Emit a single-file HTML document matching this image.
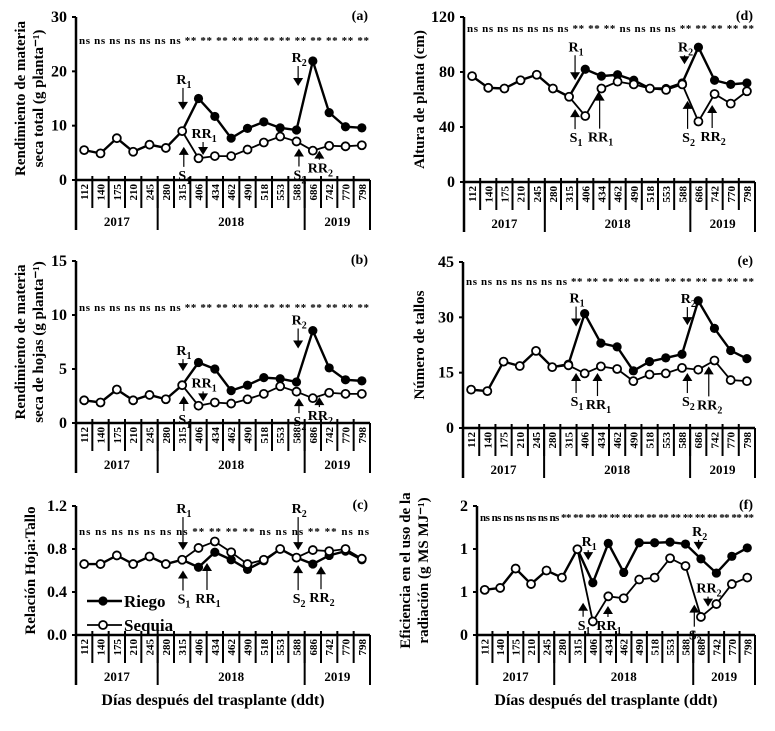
<!DOCTYPE html>
<html><head><meta charset="utf-8"><style>
html,body{margin:0;padding:0;background:#fff;}
svg{display:block;font-family:"Liberation Serif",serif;font-weight:bold;}
</style></head><body>
<svg id="fig" width="775" height="731" viewBox="0 0 775 731" xmlns="http://www.w3.org/2000/svg"></svg>
<script>
const categories = ["112","140","175","210","245","280","315","406","434","462","490","518","553","588","686","742","770","798"];
const years = ["2017","2018","2019"];
const yearSpans = [[0,5],[5,14],[14,18]];

const riegoA = [5.5,4.9,7.7,5.2,6.5,5.9,9.0,15.0,11.7,7.7,9.5,10.7,9.6,9.2,21.9,12.4,9.8,9.6];
const sequiaA = [5.5,4.9,7.7,5.2,6.5,5.9,9.0,4.0,4.4,4.4,5.6,6.9,8.0,7.1,5.4,6.3,6.2,6.4];
const riegoB = [2.1,1.9,3.1,2.1,2.6,2.2,3.5,5.6,5.0,3.0,3.5,4.2,4.1,3.8,8.55,5.1,4.0,3.9];
const sequiaB = [2.1,1.9,3.1,2.1,2.6,2.2,3.5,1.6,1.9,1.8,2.2,2.7,3.4,2.9,2.3,2.8,2.7,2.7];
const riegoC = [0.66,0.66,0.74,0.66,0.73,0.66,0.70,0.63,0.77,0.70,0.61,0.69,0.80,0.72,0.66,0.74,0.78,0.70];
const sequiaC = [0.66,0.66,0.74,0.66,0.73,0.66,0.70,0.81,0.87,0.77,0.66,0.70,0.80,0.72,0.79,0.78,0.80,0.71];
const riegoD = [77,68.5,68,74,78,68,62,82,77,78,74,68,68,72,98,74,71,72];
const sequiaD = [77,68.5,68,74,78,68,62,48,68,73,71,68,67,71,44,64,57,66];
const riegoE = [10.4,10,18,16.8,20.9,16.5,17.3,31,23,22,15.5,18,19,20,34.5,27,21,18.8];
const sequiaE = [10.4,10,18,16.8,20.9,16.5,17.0,14.8,16.7,16,12.7,14.5,14.8,16.3,15.8,18.3,13,12.7];
const riegoF = [0.70,0.73,1.03,0.79,1.00,0.89,1.33,0.81,1.42,0.97,1.43,1.43,1.44,1.41,1.18,0.96,1.22,1.35];
const sequiaF = [0.70,0.73,1.03,0.79,1.00,0.89,1.33,0.21,0.60,0.57,0.86,0.89,1.19,1.07,0.28,0.48,0.79,0.89];

const ticksA=[0,10,20,30], tickLabA=["0","10","20","30"];
const ticksB=[0,5,10,15], tickLabB=["0","5","10","15"];
const ticksC=[0,0.4,0.8,1.2], tickLabC=["0.0","0.4","0.8","1.2"];
const ticksD=[0,40,80,120], tickLabD=["0","40","80","120"];
const ticksE=[0,15,30,45], tickLabE=["0","15","30","45"];
const ticksF=[0,2/3,4/3,2], tickLabF=["0","1","1","2"];

const NS="http://www.w3.org/2000/svg";
const svg=document.getElementById('fig');
function el(tag,attrs,parent,text){const e=document.createElementNS(NS,tag);for(const k in attrs)e.setAttribute(k,attrs[k]);if(text!==undefined)e.textContent=text;(parent||svg).appendChild(e);return e;}

const panels=[
 {id:'a',x0:76,x1:370,yT:17,y0:180,max:30,ticks:ticksA,tl:tickLabA,r:riegoA,s:sequiaA,
  ns:"ns ns ns ns ns ns ns ** ** ** ** ** ** ** ** ** ** ** **",nsY:44,
  title:["Rendimiento de materia","seca total (g planta\u207B\u00B9)"],tx:[20,38],
  arrows:[[6.05,12.9,22,'d','R','1'],[7.28,4.6,13,'d','RR','1'],[6.1,6.1,20,'u','S','1'],[13.1,17.3,20,'d','R','2'],[13.15,5.8,18,'u','S','2'],[14.4,5.4,9,'u','RR','2']]},
 {id:'b',x0:76,x1:370,yT:261,y0:423,max:15,ticks:ticksB,tl:tickLabB,r:riegoB,s:sequiaB,
  ns:"ns ns ns ns ns ns ns ** ** ** ** ** ** ** ** ** ** ** **",nsY:311,
  title:["Rendimiento de materia","seca de hojas (g planta\u207B\u00B9)"],tx:[20,38],
  arrows:[[6.05,4.8,12,'d','R','1'],[7.28,2.0,10,'d','RR','1'],[6.1,2.5,15,'u','S','1'],[13.1,6.9,20,'d','R','2'],[13.15,2.3,15,'u','S','2'],[14.4,2.4,10,'u','RR','2']]},
 {id:'c',x0:76,x1:370,yT:506,y0:635,max:1.2,ticks:ticksC,tl:tickLabC,r:riegoC,s:sequiaC,
  ns:"ns ns ns ns ns ns ns ** ** ** ** ns ns ns ** ** ns ns",nsY:535,
  title:["Relación Hoja:Tallo"],tx:[30],xtitle:true,
  arrows:[[6.05,0.79,33,'d','R','1'],[6.05,0.60,20,'u','S','1'],[7.52,0.67,27,'u','RR','1'],[13.1,0.79,33,'d','R','2'],[13.1,0.65,25,'u','S','2'],[14.5,0.64,23,'u','RR','2']],legend:true},
 {id:'d',x0:464,x1:755,yT:17,y0:182,max:120,ticks:ticksD,tl:tickLabD,r:riegoD,s:sequiaD,
  ns:"ns ns ns ns ns ns ns ** ** ** ns ns ns ns ** ** ** ** **",nsY:32,
  title:["Altura de planta (cm)"],tx:[419],
  arrows:[[6.37,74,25,'d','R','1'],[6.37,53,20,'u','S','1'],[7.89,65,36,'u','RR','1'],[13.14,85.6,9,'d','R','2'],[13.33,59,28,'u','S','2'],[14.85,56,23,'u','RR','2']]},
 {id:'e',x0:463,x1:755,yT:262,y0:428,max:45,ticks:ticksE,tl:tickLabE,r:riegoE,s:sequiaE,
  ns:"ns ns ns ns ns ns ns ** ** ** ** ** ** ** ** ** ** ** **",nsY:285,
  title:["Número de tallos"],tx:[419],
  arrows:[[6.47,27.5,20,'d','R','1'],[6.47,14.9,20,'u','S','1'],[7.79,14.9,23,'u','RR','1'],[13.33,27.9,18,'d','R','2'],[13.33,14.9,20,'u','S','2'],[14.65,16.7,30,'u','RR','2']]},
 {id:'f',x0:477,x1:755,yT:506,y0:635,max:2,ticks:ticksF,tl:tickLabF,r:riegoF,s:sequiaF,
  ns:"ns ns ns  ns ns ns  ns ** ** ** ** ** ** ** ** ** ** ** ** ** ** ** **",nsY:521,
  title:["Eficiencia en el uso de la","radiación (g MS MJ\u207B\u00B9)"],tx:[405,423],xtitle:true,
  arrows:[[6.7,1.16,10,'d','R','1'],[6.37,0.5,14,'u','S','1'],[7.98,0.45,11,'u','RR','1'],[13.85,1.32,10,'d','R','2'],[13.57,0.47,22,'u','S','2'],[14.46,0.44,10,'d','RR','2']]}
];

function label(g,x,y,main,sub){
  const t=el('text',{x:x,y:y,'font-size':14,'text-anchor':'middle'},g);
  t.appendChild(document.createTextNode(main));
  el('tspan',{'font-size':10,dy:4},t,sub);
  return t;
}

panels.forEach(p=>{
  const g=el('g',{});
  
  
  const n=categories.length, cw=(p.x1-p.x0)/n;
  const X=i=>p.x0+cw*(i+0.5);
  const Y=v=>p.y0-(v/p.max)*(p.y0-p.yT);
  const ax=el('line',{x1:p.x0,y1:p.yT,x2:p.x0,y2:p.y0+50,stroke:'#000','stroke-width':2.5},g);
  
  
  el('line',{x1:p.x0,y1:p.y0,x2:p.x1,y2:p.y0,stroke:'#000','stroke-width':2.5},g);
  el('line',{x1:p.x1,y1:p.y0,x2:p.x1,y2:p.y0+50,stroke:'#000','stroke-width':2},g);
  p.ticks.forEach((t,k)=>{
    el('line',{x1:p.x0-4,y1:Y(t),x2:p.x0,y2:Y(t),stroke:'#000','stroke-width':2},g);
    const tl=el('text',{x:p.x0-9,y:Y(t)+5,'font-size':16,'text-anchor':'end'},g,p.tl[k]);
    
    
  });
  for(let i=1;i<n;i++){
    const xx=p.x0+cw*i;
    el('line',{x1:xx,y1:p.y0-4,x2:xx,y2:p.y0+28,stroke:'#000','stroke-width':2},g);
  }
  [yearSpans[1][0],yearSpans[2][0]].forEach(b=>{const xx=p.x0+cw*b;el('line',{x1:xx,y1:p.y0,x2:xx,y2:p.y0+50,stroke:'#000','stroke-width':2},g);});
  categories.forEach((c,i)=>{
    const t=el('text',{transform:`translate(${X(i)+4},${p.y0+4}) rotate(-90)`,'font-size':11,'text-anchor':'end'},g,c);
    
    
  });
  years.forEach((yv,k)=>{
    const [a,b]=yearSpans[k];
    const t=el('text',{x:p.x0+cw*(a+b)/2,y:p.y0+46,'font-size':13,'text-anchor':'middle'},g,yv);
    
    
  });
  const midY=(p.yT+p.y0)/2;
  p.title.forEach((tt,k)=>{
    const t=el('text',{transform:`translate(${p.tx[k]+5},${midY}) rotate(-90)`,'font-size':15,'text-anchor':'middle'},g,tt);
    
    
  });
  const pl=el('text',{x:p.x1-2,y:p.yT+3,'font-size':14,'text-anchor':'end'},g,'('+p.id+')');
  
  
  const nt=el('text',{x:p.x0+3,y:p.nsY,'font-size':11,textLength:p.x1-p.x0-4,lengthAdjust:'spacing'},g,p.ns);
  
  
  if(p.xtitle){
    const t=el('text',{x:(p.x0+p.x1)/2-10,y:705,'font-size':16,'text-anchor':'middle'},g,'Días después del trasplante (ddt)');
    
    
  }
  const map=arr=>arr.map((v,i)=>[X(i),Y(v)]);
  const rl=el('polyline',{points:map(p.r).map(q=>q.join(',')).join(' '),fill:'none',stroke:'#000','stroke-width':2.4},g);
  
  
  const sl=el('polyline',{points:map(p.s).map(q=>q.join(',')).join(' '),fill:'none',stroke:'#000','stroke-width':1.8},g);
  
  
  map(p.r).forEach(q=>{const c=el('circle',{cx:q[0],cy:q[1],r:4.6,fill:'#000'},g);
    
    });
  map(p.s).forEach(q=>{const c=el('circle',{cx:q[0],cy:q[1],r:4,fill:'#fff',stroke:'#000','stroke-width':1.8},g);
    
    });
  p.arrows.forEach(a=>{
    const [i,v,len,dir,m,sub]=a;
    const x=X(i), yt=Y(v);
    const ag=el('g',{},g);
    
    
    if(dir==='d'){
      el('line',{x1:x,y1:yt-len,x2:x,y2:yt-6,stroke:'#000','stroke-width':1.2},ag);
      el('polygon',{points:`${x-5},${yt-8} ${x+5},${yt-8} ${x},${yt}`,fill:'#000'},ag);
      label(ag,x+1,yt-len-4,m,sub);
    }else{
      el('line',{x1:x,y1:yt+6,x2:x,y2:yt+len,stroke:'#000','stroke-width':1.2},ag);
      el('polygon',{points:`${x-5},${yt+8} ${x+5},${yt+8} ${x},${yt}`,fill:'#000'},ag);
      label(ag,x+1,yt+len+13,m,sub);
    }
  });
  if(p.legend){
    const lg=el('g',{},g);
    
    
    el('line',{x1:87,y1:601,x2:122,y2:601,stroke:'#000','stroke-width':2.4},lg);
    el('circle',{cx:103,cy:601,r:4.6,fill:'#000'},lg);
    el('text',{x:124,y:607,'font-size':17},lg,'Riego');
    el('line',{x1:87,y1:625,x2:122,y2:625,stroke:'#000','stroke-width':1.8},lg);
    el('circle',{cx:103,cy:625,r:4,fill:'#fff',stroke:'#000','stroke-width':1.8},lg);
    el('text',{x:124,y:631,'font-size':17},lg,'Sequia');
  }
});
</script>
</body></html>
